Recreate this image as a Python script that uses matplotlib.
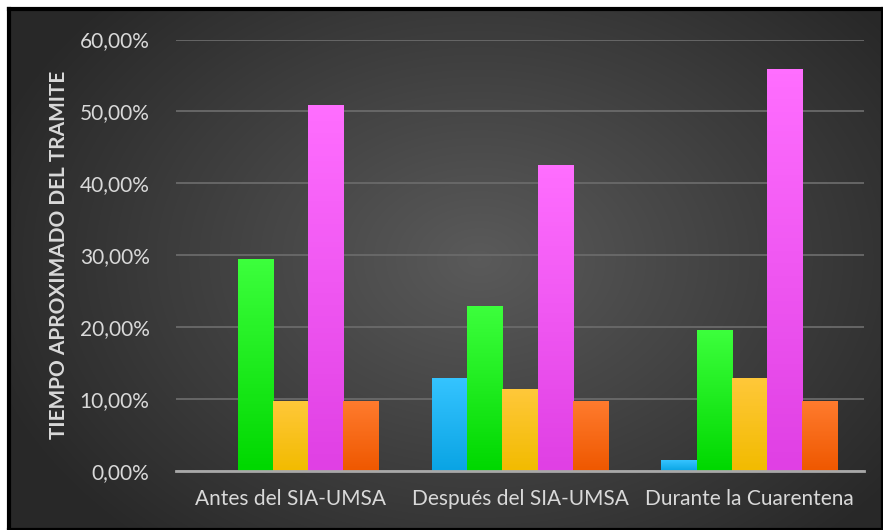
import numpy as np
import matplotlib.pyplot as plt
from matplotlib.colors import LinearSegmentedColormap
from matplotlib.ticker import FuncFormatter

categorias = ['Antes del SIA-UMSA', 'Después del SIA-UMSA', 'Durante la Cuarentena']
serie_azul = [0.0, 13.0, 1.5]
serie_verde = [29.5, 22.9, 19.6]
serie_amarilla = [9.8, 11.4, 13.0]
serie_rosa = [50.9, 42.6, 55.9]
serie_naranja = [9.8, 9.8, 9.8]
yticks = [0, 10, 20, 30, 40, 50, 60]

series = [serie_azul, serie_verde, serie_amarilla, serie_rosa, serie_naranja]
# (top, bottom) colours for the vertical gradient of each series
colores = [('#35c4ff', '#0aa4e4'),
           ('#3cff3c', '#00d800'),
           ('#ffc83a', '#f2bb00'),
           ('#ff6eff', '#e040e4'),
           ('#ff7b2e', '#ef5800')]

plt.rcParams['font.family'] = ['Lato', 'DejaVu Sans']

W, H = 883, 530
fig = plt.figure(figsize=(W / 100, H / 100), dpi=100, facecolor='white')

# background panel with radial gradient and black frame
bg = fig.add_axes([9 / W, 0, (W - 9) / W, (H - 9) / H])
yy, xx = np.mgrid[0:H - 9, 0:W - 9]
cx, cy = 470, 250
d = np.sqrt(((xx - cx) / 520) ** 2 + ((yy - cy) / 380) ** 2)
d = np.clip(d, 0, 1)
bg_cmap = LinearSegmentedColormap.from_list('bg', ['#5a5a5a', '#282828'])
bg.imshow(d, cmap=bg_cmap, aspect='auto', extent=[0, 1, 0, 1], vmin=0, vmax=1)
bg.set_xticks([])
bg.set_yticks([])
for s in bg.spines.values():
    s.set_color('black')
    s.set_linewidth(3)

ax = fig.add_axes([176 / W, 1 - 471 / H, 688 / W, 431.5 / H])
ax.patch.set_alpha(0)

x = np.arange(len(categorias))
w = 0.1535
for i, (vals, (c_top, c_bot)) in enumerate(zip(series, colores)):
    bars = ax.bar(x + (i - 2) * w, vals, width=w, color=c_bot, linewidth=0, zorder=3)
    cmap = LinearSegmentedColormap.from_list('g%d' % i, [c_bot, c_top])
    grad = np.linspace(0, 1, 64).reshape(-1, 1)
    for b in bars:
        if b.get_height() <= 0:
            continue
        bx, by = b.get_x(), b.get_y()
        im = ax.imshow(grad, cmap=cmap, origin='lower', aspect='auto',
                       extent=[bx, bx + b.get_width(), by, by + b.get_height()],
                       zorder=3.5)
        im.set_clip_path(b)

ax.set_xlim(-0.5, 2.5)
ax.set_ylim(0, 60)
ax.set_yticks(yticks)
ax.yaxis.set_major_formatter(FuncFormatter(lambda v, p: ('%.2f%%' % v).replace('.', ',')))
ax.set_xticks(x)
ax.set_xticklabels(categorias)
ax.grid(axis='y', color='#6a6a6a', linewidth=1.3, zorder=0)
ax.tick_params(axis='y', length=0, pad=19, labelsize=15, labelcolor='#d9d9d9')
ax.tick_params(axis='x', length=0, pad=13, labelsize=15, labelcolor='#d9d9d9')
for side in ['top', 'right', 'left']:
    ax.spines[side].set_visible(False)
ax.spines['bottom'].set_color('#a8a8a8')
ax.spines['bottom'].set_linewidth(2)
ax.spines['bottom'].set_zorder(5)

fig.text(59 / W, 1 - 255 / H, 'TIEMPO APROXIMADO DEL TRAMITE', rotation=90,
         ha='center', va='center', fontsize=15, fontweight='bold', color='#d9d9d9')

fig.savefig('out.png', dpi=100, facecolor='white')
